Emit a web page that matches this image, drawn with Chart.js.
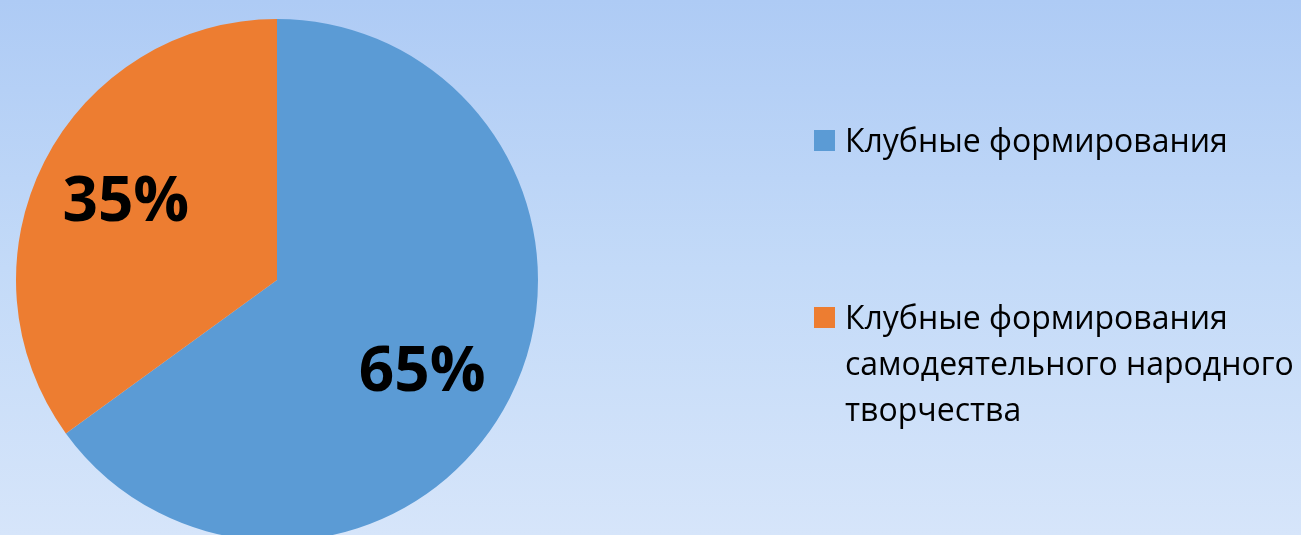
<!DOCTYPE html>
<html>
<head>
<meta charset="utf-8">
<script src="https://cdn.jsdelivr.net/npm/chart.js@4.4.0/dist/chart.umd.min.js"></script>
<style>
  html, body { margin: 0; padding: 0; }
  body {
    width: 1301px; height: 535px; overflow: hidden; position: relative;
    background: linear-gradient(to bottom, #aecbf5 0%, #c3daf8 50%, #d6e5fa 100%);
    font-family: "Open Sans", "Noto Sans", sans-serif;
  }
  #wrap { position: absolute; left: 0; top: 0; width: 1301px; height: 600px; }
  #legend { position: absolute; left: 814px; top: 0; width: 487px; }
  .item { position: absolute; left: 0; display: flex; align-items: flex-start; }
  .box { width: 21px; height: 21px; margin-right: 10px; flex: none; }
  .txt { font-size: 32px; line-height: 46px; color: #000; width: 456px; }
</style>
</head>
<body>
<div id="wrap"><canvas id="pieChart"></canvas></div>
<div id="legend"></div>
<script>
const categories = ['Клубные формирования', 'Клубные формирования самодеятельного народного творчества'];
const shares = [65, 35];
const colors = ['#5b9bd5', '#ed7d31'];
const legendTops = [117, 294];

// подписи процентов внутри секторов
const pctLabels = {
    id: 'pctLabels',
    afterDatasetsDraw(chart) {
        const ctx = chart.ctx;
        const meta = chart.getDatasetMeta(0);
        ctx.save();
        ctx.fillStyle = '#000';
        ctx.font = 'bold 62px "Open Sans", sans-serif';
        ctx.textAlign = 'center';
        ctx.textBaseline = 'middle';
        meta.data.forEach((arc, i) => {
            const p = arc.getProps(['x', 'y', 'startAngle', 'endAngle', 'outerRadius'], true);
            const mid = (p.startAngle + p.endAngle) / 2;
            const r = p.outerRadius * 0.65;
            // небольшой сдвиг большой подписи вниз, как в оригинале
            const dx = i === 0 ? -6 : 0;
            const dy = i === 0 ? 16 : 0;
            ctx.fillText(shares[i] + '%', p.x + Math.cos(mid) * r + dx, p.y + Math.sin(mid) * r + dy);
        });
        ctx.restore();
    }
};

const ctx = document.getElementById('pieChart').getContext('2d');
new Chart(ctx, {
    type: 'pie',
    data: {
        labels: categories,
        datasets: [{
            data: shares,
            backgroundColor: colors,
            borderWidth: 0
        }]
    },
    options: {
        responsive: true,
        maintainAspectRatio: false,
        animation: false,
        layout: { padding: { left: 16, top: 19, right: 763, bottom: 59 } },
        plugins: {
            legend: { display: false },
            tooltip: { enabled: false }
        }
    },
    plugins: [pctLabels]
});

const legend = document.getElementById('legend');
categories.forEach((name, i) => {
    const item = document.createElement('div');
    item.className = 'item';
    item.style.top = legendTops[i] + 'px';
    item.innerHTML = '<div class="box" style="background:' + colors[i] + ';margin-top:13px"></div><div class="txt">' + name + '</div>';
    legend.appendChild(item);
});
</script>
</body>
</html>
